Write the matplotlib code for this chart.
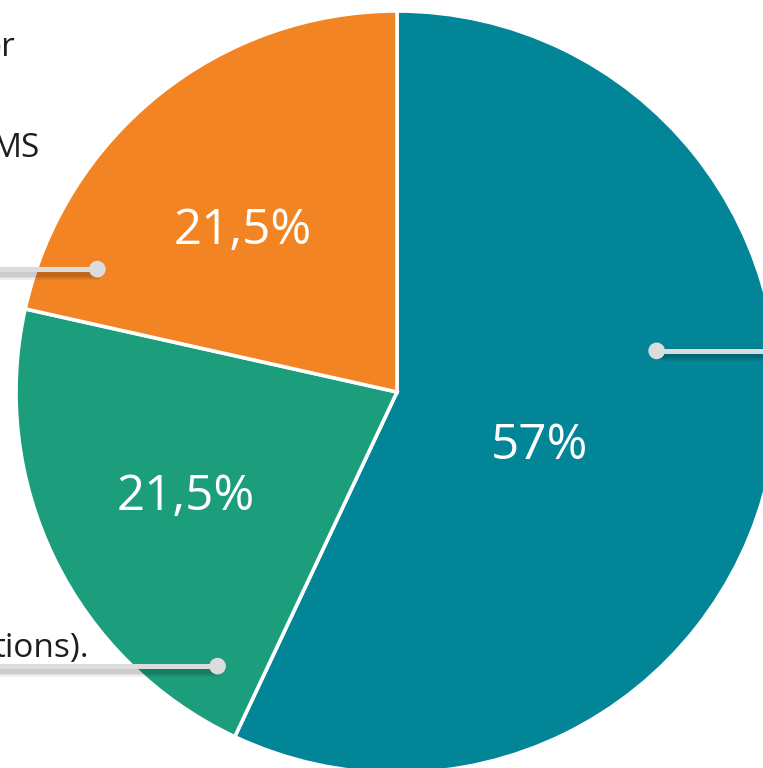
import matplotlib.pyplot as plt
import matplotlib.patheffects as pe
import numpy as np

plt.rcParams['font.family'] = ['Open Sans', 'DejaVu Sans']

# slice shares (percent), drawn clockwise from 12 o'clock
shares = [57, 21.5, 21.5]
colors = ['#028597', '#1c9d7c', '#f28423']
labels = [('%g' % v).replace('.', ',') + '%' for v in shares]

# cut-off legend texts on the left
side_texts = ['or', 'MS', 'tions).']

W, H = 763, 768
fig = plt.figure(figsize=(W / 100, H / 100), dpi=100)
ax = fig.add_axes([0, 0, 1, 1])

cx, cy, R = 397, H - 392, 381
wedges, _ = ax.pie(shares, colors=colors, startangle=90, counterclock=False,
                   center=(cx, cy), radius=R,
                   wedgeprops=dict(edgecolor='white', linewidth=2.6))
ax.set_xlim(0, W)
ax.set_ylim(0, H)
ax.set_aspect('equal')
ax.axis('off')

def polar(ang, frac):
    a = np.deg2rad(ang)
    return cx + frac * R * np.cos(a), cy + frac * R * np.sin(a)

# percentage labels (angle, radius fraction)
label_pos = [(-20.8, 0.40), (-153.5, 0.62), (133.7, 0.585)]
for txt, (ang, fr) in zip(labels, label_pos):
    x, y = polar(ang, fr)
    ax.text(x, y, txt, color='white', fontsize=35.5, ha='center', va='center')

# leader lines: dot inside slice, line running off the edge
dots = [(9.0, 0.69, W + 10), (-123.2, 0.86, -10), (157.7, 0.85, -10)]
shadow = [pe.SimpleLineShadow(offset=(1.5, -2.5), shadow_color='k', alpha=0.07, linewidth=w)
          for w in (9, 7, 5)] + [pe.Normal()]
for ang, fr, xend in dots:
    x, y = polar(ang, fr)
    ax.plot([x, xend], [y, y], color='#dcdcdc', lw=3.6, solid_capstyle='butt',
            path_effects=shadow, zorder=3)
    ax.plot([x], [y], 'o', color='#dcdcdc', ms=12, mew=0,
            path_effects=[pe.SimpleLineShadow(offset=(1.5, -2.5), shadow_color='k', alpha=0.12),
                          pe.Normal()], zorder=4)

# legend text fragments, right-aligned so only their ends show
for txt, (xr, yb) in zip(side_texts, [(15, H - 56), (40, H - 157), (89, H - 657)]):
    ax.text(xr, yb, txt, color='#1e1e1e', fontsize=24, ha='right', va='baseline')

fig.savefig('out.png', dpi=100)
